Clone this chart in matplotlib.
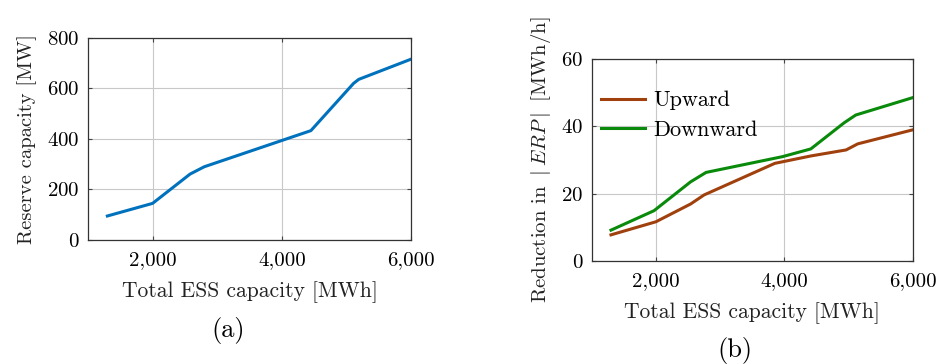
import matplotlib
matplotlib.use('Agg')
import matplotlib.pyplot as plt
from matplotlib.ticker import FuncFormatter

# Panel (a): reserve capacity vs total ESS capacity
ess_a = [1300, 2000, 2580, 2800, 4450, 5110, 5190, 6000]
reserve = [95, 145, 261, 290, 433, 620, 636, 716]

# Panel (b): reduction in |ERP|
ess_up = [1300, 2000, 2540, 2750, 3850, 4410, 4960, 5140, 6000]
upward = [7.7, 11.6, 16.9, 19.6, 29.0, 31.2, 33.0, 34.8, 39.0]
ess_down = [1300, 1970, 2540, 2780, 3970, 4410, 4930, 5110, 6000]
downward = [9.1, 14.9, 23.5, 26.3, 31.0, 33.3, 41.1, 43.4, 48.6]

xticks = [2000, 4000, 6000]

plt.rcParams['font.family'] = 'serif'
plt.rcParams['font.serif'] = ['cmr10', 'DejaVu Serif']
plt.rcParams['mathtext.fontset'] = 'cm'
plt.rcParams['axes.formatter.use_mathtext'] = True
plt.rcParams['font.size'] = 15


def thousands(v, pos):
    return '{:,.0f}'.format(v)


def style_axes(ax):
    ax.grid(True, color='#c8c8c8', linewidth=0.8)
    ax.set_axisbelow(True)
    ax.tick_params(direction='in', length=3, color='#444444',
                   top=True, right=True, labelsize=15)
    ax.tick_params(axis='x', pad=8)
    ax.tick_params(axis='y', pad=6)
    for sp in ax.spines.values():
        sp.set_color('#333333')
        sp.set_linewidth(0.9)
    ax.set_xlim(1000, 6000)
    ax.set_xticks(xticks)
    ax.xaxis.set_major_formatter(FuncFormatter(thousands))
    ax.set_xlabel('Total ESS capacity [MWh]', fontsize=15.5, color='#222222',
                  labelpad=9)


fig = plt.figure(figsize=(9.41, 3.64), dpi=100)

ax1 = fig.add_axes([0.0935, 0.3407, 0.3433, 0.555])
ax1.plot(ess_a, reserve, color='#0072BD', linewidth=2.2)
style_axes(ax1)
ax1.set_ylim(0, 800)
ax1.set_yticks([0, 200, 400, 600, 800])
ax1.set_ylabel('Reserve capacity [MW]', fontsize=14.8, color='#222222',
               labelpad=7)
fig.text(0.2425, 0.093, '(a)', ha='center', va='center', fontsize=19)

ax2 = fig.add_axes([0.6288, 0.2838, 0.3414, 0.5533])
ax2.plot(ess_up, upward, color='#A0410D', linewidth=2.2, label='Upward')
ax2.plot(ess_down, downward, color='#0A8A0A', linewidth=2.2, label='Downward')
style_axes(ax2)
ax2.set_ylim(0, 60)
ax2.set_yticks([0, 20, 40, 60])
ax2.set_ylabel(r'Reduction in $\mid ERP\mid$ [MWh/h]', fontsize=15,
               color='#222222', labelpad=6)
ax2.legend(loc='center left', frameon=False, fontsize=16, handlelength=2.0,
           handletextpad=0.36, borderaxespad=0, borderpad=0,
           labelspacing=0.45, bbox_to_anchor=(0.028, 0.721))
fig.text(0.781, 0.038, '(b)', ha='center', va='center', fontsize=19)

fig.savefig('out.png', dpi=100)
